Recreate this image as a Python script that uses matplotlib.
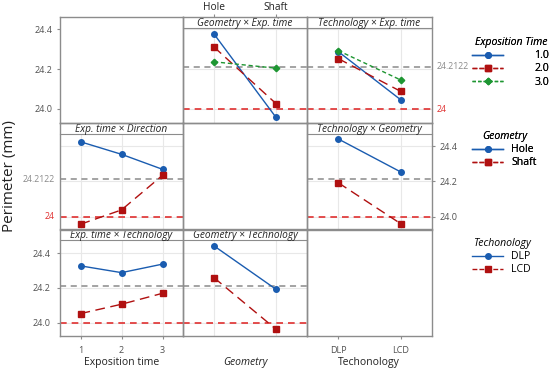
import matplotlib.pyplot as plt
from matplotlib.lines import Line2D

plt.rcParams['font.family'] = ['Open Sans', 'DejaVu Sans']

# categories
exp_times = [1, 2, 3]
exp_labels = ['1.0', '2.0', '3.0']
geometry = ['Hole', 'Shaft']
technology = ['DLP', 'LCD']

# reference values
grand_mean = 24.2122
nominal = 24.0

# Geometry x Exp. time (x = Hole, Shaft)
geo_exp_t1 = [24.375, 23.958]
geo_exp_t2 = [24.31, 24.027]
geo_exp_t3 = [24.236, 24.204]

# Technology x Exp. time (x = DLP, LCD)
tech_exp_t1 = [24.287, 24.046]
tech_exp_t2 = [24.252, 24.088]
tech_exp_t3 = [24.292, 24.145]

# Exp. time x Direction (x = 1, 2, 3)
exp_dir_hole = [24.424, 24.353, 24.268]
exp_dir_shaft = [23.957, 24.038, 24.234]

# Technology x Geometry (x = DLP, LCD)
tech_geo_hole = [24.44, 24.253]
tech_geo_shaft = [24.192, 23.96]

# Exp. time x Technology (x = 1, 2, 3)
exp_tech_dlp = [24.327, 24.288, 24.337]
exp_tech_lcd = [24.052, 24.106, 24.169]

# Geometry x Technology (x = Hole, Shaft)
geo_tech_dlp = [24.442, 24.192]
geo_tech_lcd = [24.259, 23.962]

BLUE = '#1a5cb0'
RED = '#b01010'
GREEN = '#1e9632'
FRAME = '#8c8c8c'
TICKC = '#505050'
TXT = '#222222'

s_blue = dict(color=BLUE, ls='-', marker='o', ms=4, lw=1.0)
s_red = dict(color=RED, ls=(0, (7, 4)), marker='s', ms=4, lw=1.0)
s_green = dict(color=GREEN, ls=(0, (3, 2)), marker='D', ms=3.3, lw=1.0)

W, H = 550, 372
fig = plt.figure(figsize=(5.5, 3.72), dpi=100)

cols = [(60, 183), (183, 307), (307, 432)]
rows = [(17, 28, 123), (123, 134, 229), (230, 240, 336)]
ylims = [(23.93, 24.405), (23.93, 24.468), (23.923, 24.476)]


def box(x0, y0, x1, y1):
    return [x0 / W, 1 - y1 / H, (x1 - x0) / W, (y1 - y0) / H]


def frame(c, r):
    ax = fig.add_axes(box(cols[c][0], rows[r][0], cols[c][1], rows[r][2]), zorder=5)
    ax.set_facecolor('none')
    ax.set_xticks([])
    ax.set_yticks([])
    for s in ax.spines.values():
        s.set_color(FRAME)
        s.set_linewidth(1.0)
    return ax


def header(c, r, title):
    ax = fig.add_axes(box(cols[c][0], rows[r][0], cols[c][1], rows[r][1]), zorder=4)
    ax.set_xticks([])
    ax.set_yticks([])
    for k, s in ax.spines.items():
        s.set_visible(k == 'bottom')
        s.set_color(FRAME)
    ax.text(0.5, 0.45, title, ha='center', va='center', style='italic',
            fontsize=7.3, color=TXT, transform=ax.transAxes)
    return ax


def data_ax(c, r, xlim, grid=True):
    ax = fig.add_axes(box(cols[c][0], rows[r][1], cols[c][1], rows[r][2]), zorder=3)
    ax.set_facecolor('none')
    ax.set_xlim(*xlim)
    ax.set_ylim(*ylims[r])
    for s in ax.spines.values():
        s.set_visible(False)
    ax.tick_params(length=0, labelsize=6.5, colors=TICKC,
                   labelbottom=False, labelleft=False)
    ax.set_xticks([])
    ax.set_yticks([24.0, 24.2, 24.4])
    if grid:
        ax.grid(True, color='#e8e8e8', lw=0.8)
        ax.set_axisbelow(True)
    return ax


def reflines(ax):
    ax.axhline(grand_mean, color='#8a8a8a', ls=(0, (4, 3)), lw=1.1, zorder=1)
    ax.axhline(nominal, color='#e03030', ls=(0, (4, 3)), lw=1.2, zorder=1)


CAT = (-0.5, 1.5)
NUM = (0.5, 3.5)
xc = [0, 1]

# ---- row 1 ----
frame(0, 0)
a = data_ax(0, 0, NUM, grid=False)
a.tick_params(axis='y', length=2, color=FRAME, labelleft=True)
a.set_yticklabels(['24.0', '24.2', '24.4'])

frame(1, 0)
h = header(1, 0, 'Geometry × Exp. time')
h.set_xlim(*CAT)
h.xaxis.tick_top()
h.set_xticks(xc)
h.set_xticklabels(geometry, fontsize=7.3, color=TXT)
h.tick_params(axis='x', length=2, color=FRAME, pad=1)
a = data_ax(1, 0, CAT)
a.set_xticks(xc)
reflines(a)
a.plot(xc, geo_exp_t1, **s_blue)
a.plot(xc, geo_exp_t2, **s_red)
a.plot(xc, geo_exp_t3, **s_green)

frame(2, 0)
header(2, 0, 'Technology × Exp. time')
a = data_ax(2, 0, CAT)
a.set_xticks(xc)
reflines(a)
a.plot(xc, tech_exp_t1, **s_blue)
a.plot(xc, tech_exp_t2, **s_red)
a.plot(xc, tech_exp_t3, **s_green)
a.text(1.04, grand_mean, '24.2122', transform=a.get_yaxis_transform(),
       fontsize=6.3, color='#8a8a8a', va='center', ha='left')
a.text(1.04, nominal, '24', transform=a.get_yaxis_transform(),
       fontsize=6.3, color='#e03030', va='center', ha='left')

# ---- row 2 ----
frame(0, 1)
header(0, 1, 'Exp. time × Direction')
a = data_ax(0, 1, NUM)
a.set_xticks(exp_times)
reflines(a)
a.plot(exp_times, exp_dir_hole, **s_blue)
a.plot(exp_times, exp_dir_shaft, **s_red)
a.text(-0.04, grand_mean, '24.2122', transform=a.get_yaxis_transform(),
       fontsize=6.3, color='#8a8a8a', va='center', ha='right')
a.text(-0.04, nominal, '24', transform=a.get_yaxis_transform(),
       fontsize=6.3, color='#e03030', va='center', ha='right')

frame(1, 1)

frame(2, 1)
header(2, 1, 'Technology × Geometry')
a = data_ax(2, 1, CAT)
a.set_xticks(xc)
reflines(a)
a.plot(xc, tech_geo_hole, **s_blue)
a.plot(xc, tech_geo_shaft, **s_red)
a.yaxis.tick_right()
a.tick_params(axis='y', length=2, color=FRAME, labelright=True)
a.set_yticklabels(['24.0', '24.2', '24.4'])

# ---- row 3 ----
frame(0, 2)
header(0, 2, 'Exp. time × Technology')
a = data_ax(0, 2, NUM)
reflines(a)
a.plot(exp_times, exp_tech_dlp, **s_blue)
a.plot(exp_times, exp_tech_lcd, **s_red)
a.set_xticks(exp_times)
a.set_xticklabels([str(t) for t in exp_times])
a.set_yticklabels(['24.0', '24.2', '24.4'])
a.tick_params(length=2, color=FRAME, labelbottom=True, labelleft=True, pad=5)

frame(1, 2)
header(1, 2, 'Geometry × Technology')
a = data_ax(1, 2, CAT)
a.set_xticks(xc)
reflines(a)
a.plot(xc, geo_tech_dlp, **s_blue)
a.plot(xc, geo_tech_lcd, **s_red)

frame(2, 2)
a = data_ax(2, 2, CAT, grid=False)
a.set_xticks(xc)
a.set_xticklabels(technology)
a.tick_params(axis='x', length=2, color=FRAME, labelbottom=True, pad=5)

# axis titles
fig.text(122 / W, 1 - 362 / H, 'Exposition time', fontsize=7.5, color=TXT,
         ha='center', va='center')
fig.text(245 / W, 1 - 362 / H, 'Geometry', fontsize=7.5, style='italic', color=TXT,
         ha='center', va='center')
fig.text(369 / W, 1 - 362 / H, 'Techonology', fontsize=7.5, color=TXT,
         ha='center', va='center')
fig.text(10 / W, 1 - 176 / H, 'Perimeter (mm)', rotation=90, fontsize=11,
         color=TXT, ha='center', va='center')


# ---- legends ----
def legend(handles, labels, title, y, pad):
    lg = fig.legend(handles, labels, title=title, loc='upper left',
                    bbox_to_anchor=(468 / W, 1 - y / H), frameon=False,
                    fontsize=7.6, handlelength=2.9, handletextpad=pad,
                    labelspacing=0.2, borderaxespad=0, alignment='center')
    lg.get_title().set_fontstyle('italic')
    lg.get_title().set_fontsize(7.6)
    return lg


def h_blue():
    return Line2D([], [], color=BLUE, ls='-', marker='o', ms=4, lw=1.0)


def h_red():
    return Line2D([], [], color=RED, ls=(0, (3.5, 1.5)), marker='s', ms=4, lw=1.0)


def h_green():
    return Line2D([], [], color=GREEN, ls=(0, (2.5, 1.5)), marker='D', ms=3.3, lw=1.0)


lg1 = legend([h_blue(), h_red(), h_green()], exp_labels, 'Exposition Time', 33, 3.0)
fig.add_artist(lg1)
lg2 = legend([h_blue(), h_red()], geometry, 'Geometry', 127, 0.8)
fig.add_artist(lg2)
legend([h_blue(), h_red()], technology, 'Techonology', 234, 0.8)

fig.savefig('out.png', dpi=100)
